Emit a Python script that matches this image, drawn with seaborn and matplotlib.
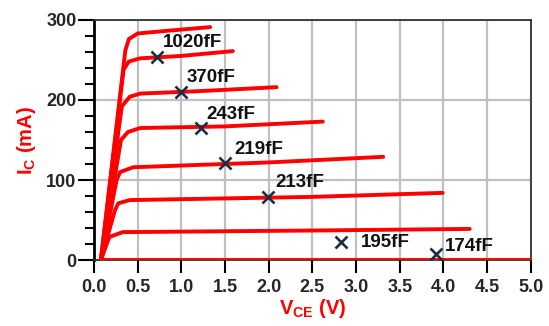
import numpy as np
import pandas as pd
import matplotlib
matplotlib.use("Agg")
import matplotlib.pyplot as plt
import seaborn as sns

# I-V curves (V_CE in V, I_C in mA)
curve_vce = [
    [0.08, 0.36, 0.40, 0.50, 0.80, 1.33],
    [0.08, 0.34, 0.40, 0.53, 1.00, 1.59],
    [0.08, 0.32, 0.41, 0.53, 1.20, 2.09],
    [0.08, 0.31, 0.39, 0.53, 1.50, 2.62],
    [0.08, 0.26, 0.30, 0.45, 2.00, 3.31],
    [0.08, 0.24, 0.28, 0.41, 2.50, 3.99],
    [0.08, 0.16, 0.18, 0.33, 2.50, 4.30],
    [0.08, 5.00],
]
curve_ic = [
    [0, 262, 276, 283, 286, 291],
    [0, 238, 248, 252, 255, 261],
    [0, 192, 204, 208, 211, 216],
    [0, 150, 160, 165, 167, 173],
    [0, 100, 110, 116, 122, 129],
    [0, 62, 71, 75, 79, 84],
    [0, 24, 29, 35, 37, 39],
    [0, 0],
]

marker_vce = [0.72, 1.00, 1.23, 1.50, 1.99, 2.83, 3.91]
marker_ic = [254, 210, 165, 121, 79, 23, 8]
marker_labels = ["1020fF", "370fF", "243fF", "219fF", "213fF", "195fF", "174fF"]
label_vce = [0.79, 1.06, 1.29, 1.61, 2.08, 3.05, 4.02]
label_ic = [266, 222, 176, 132, 91, 16, 11]

rows = []
for i, (xs, ys) in enumerate(zip(curve_vce, curve_ic)):
    for x, y in zip(xs, ys):
        rows.append((i, x, y))
df = pd.DataFrame(rows, columns=["curve", "vce", "ic"])
mk = pd.DataFrame({"vce": marker_vce, "ic": marker_ic})

sns.set_style("white")
plt.rcParams["font.family"] = ["Liberation Sans", "DejaVu Sans"]
plt.rcParams["mathtext.fontset"] = "custom"
plt.rcParams["mathtext.rm"] = "Liberation Sans:bold"
plt.rcParams["mathtext.bf"] = "Liberation Sans:bold"

fig = plt.figure(figsize=(5.49, 3.26), dpi=100)
ax = fig.add_axes([0.171, 0.202, 0.796, 0.737])

sns.lineplot(data=df, x="vce", y="ic", hue="curve", units="curve",
             estimator=None, sort=False, palette=["#ff0000"] * len(curve_vce),
             linewidth=2.8, legend=False, ax=ax, zorder=3)
sns.scatterplot(data=mk, x="vce", y="ic", marker="x", s=75, color="#1c2e45",
                linewidth=1.9, ax=ax, zorder=4)

for x, y, t in zip(label_vce, label_ic, marker_labels):
    ax.text(x, y, t, fontsize=13.5, fontweight="bold", color="#111111",
            ha="left", va="baseline", zorder=5)

ax.set_xlim(0, 5)
ax.set_ylim(0, 300)
ax.set_xticks(np.arange(0, 5.01, 0.5))
ax.set_xticklabels([f"{v:.1f}" for v in np.arange(0, 5.01, 0.5)])
ax.set_yticks([0, 100, 200, 300])
ax.set_yticks(np.arange(0, 301, 20), minor=True)
ax.grid(True, which="major", color="#c0c0c0", linewidth=1.6)
ax.tick_params(axis="x", which="major", direction="out", length=9.5,
               width=1.5, color="black", labelsize=13, pad=4)
ax.tick_params(axis="y", which="major", direction="out", length=11.5,
               width=1.5, color="black", labelsize=13, pad=1)
ax.tick_params(axis="y", which="minor", direction="out", length=6.5,
               width=1.5, color="black", left=True)
ax.tick_params(left=True, bottom=True)
for lab in ax.get_xticklabels() + ax.get_yticklabels():
    lab.set_fontweight("bold")
for s in ax.spines.values():
    s.set_color("#333333")
    s.set_linewidth(1.3)
ax.spines["left"].set_color("black")
ax.spines["left"].set_linewidth(2)

ax.set_xlabel(r"V$_{\mathrm{CE}}$ (V)", color="#ff0000", fontsize=14.5,
              fontweight="bold", labelpad=1)
ax.set_ylabel(r"I$_{\mathrm{C}}$ (mA)", color="#ff0000", fontsize=14.5,
              fontweight="bold", labelpad=6)

fig.savefig("out.png", dpi=100)
